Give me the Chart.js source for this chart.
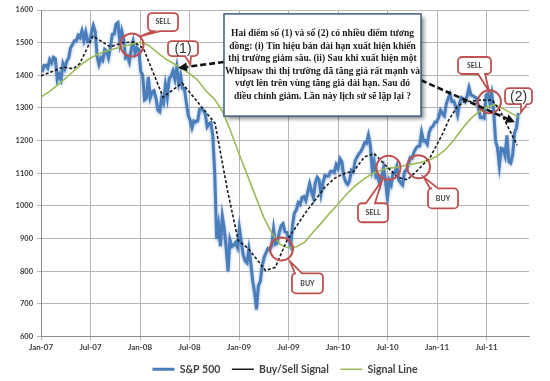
<!DOCTYPE html>
<html>
<head>
<meta charset="utf-8">
<script src="https://cdn.jsdelivr.net/npm/chart.js@4.4.0/dist/chart.umd.min.js"></script>
<style>
html,body{margin:0;padding:0;background:#fff;}
</style>
</head>
<body>
<canvas id="myChart" width="550" height="381"></canvas>
<script>
'use strict';

// x axis is in months since 1 Jan 2007
const tickMonths=[0,6,12,18,24,30,36,42,48,54];
const tickLabels=['Jan-07','Jul-07','Jan-08','Jul-08','Jan-09','Jul-09','Jan-10','Jul-10','Jan-11','Jul-11'];

// S&P 500 weekly closes, first one is Fri 5 Jan 2007
const firstFriday=4;
const sp2007=[1409.7,1430.7,1430.5,1422.2,1448.4,1438.1,1455.5,1451.2,1387.2,1402.8,1386.9,1436.1,1420.9,1443.8,1452.9,1484.4,1494.1,1505.6,1505.9,1522.8,1515.7,1536.3,1507.7,1532.9,1502.6,1503.4,1530.4,1552.5,1534.1,1458.9,1433.1,1453.6,1445.9,1479.4,1473.9,1453.6,1484.3,1525.8,1526.8,1557.6,1561.8,1500.6,1535.3,1509.7,1453.7,1458.7,1440.7,1481.1,1504.7,1467.9,1484.5,1478.5];
const sp2008=[1411.6,1401.0,1325.2,1330.6,1395.4,1331.3,1349.0,1353.1,1330.6,1293.4,1288.1,1329.5,1315.2,1370.4,1332.8,1390.3,1397.8,1413.9,1388.3,1425.4,1375.9,1400.4,1360.7,1360.0,1317.9,1278.4,1262.9,1239.5,1260.7,1257.8,1260.3,1296.3,1298.2,1292.2,1282.8,1242.3,1251.7,1255.1,1213.3,1099.2,899.2,940.6,876.8,968.8,931.0,873.3,800.0,896.2,876.1,879.7,887.9,872.8];
const sp2009=[931.8,890.4,850.1,831.9,825.9,868.6,826.8,770.1,735.1,683.4,756.6,768.5,815.9,842.5,856.6,869.6,866.2,877.5,929.2,882.9,887.0,919.1,940.1,946.2,921.2,918.9,896.4,879.1,940.4,979.3,987.5,1010.5,1004.1,1026.1,1028.9,1016.4,1042.7,1068.3,1044.4,1025.2,1071.5,1087.7,1079.6,1036.2,1069.3,1093.5,1091.4,1091.5,1106.0,1106.4,1102.5,1126.5,1115.1];
const sp2010=[1145.0,1136.0,1091.8,1073.9,1066.2,1075.5,1109.2,1104.5,1138.7,1150.0,1159.9,1166.6,1178.1,1194.4,1192.1,1217.3,1186.7,1110.9,1135.7,1087.7,1089.4,1064.9,1091.6,1117.5,1076.8,1022.6,1078.0,1064.9,1102.7,1101.6,1121.6,1079.3,1071.7,1064.6,1104.5,1109.6,1125.6,1148.7,1146.2,1165.2,1176.2,1183.1,1183.3,1225.9,1199.2,1199.7,1189.4,1224.7,1240.4,1243.9,1256.8,1257.6];
const sp2011=[1271.5,1293.2,1283.4,1276.3,1310.9,1329.2,1343.0,1319.9,1321.2,1304.3,1279.2,1313.8,1332.4,1328.2,1319.7,1337.4,1363.6,1340.2,1337.8,1333.3,1331.1,1300.2,1271.0,1271.5,1268.5,1339.7,1343.8,1316.1,1345.0,1292.3,1199.4,1178.8,1123.5,1176.8,1174.0,1154.2,1216.0,1136.4,1131.4,1155.5,1224.6,1238.3,1285.1];
const spValues=[].concat(sp2007,sp2008,sp2009,sp2010,sp2011);

// Buy/Sell Signal (dashed)
const signalMonths=[0,2.7,3.9,4.7,6.3,8.4,9.9,11.2,12.4,14.8,17.1,18.7,20.7,21.1,22.6,23.9,25.1,26.2,27.2,28.4,29.8,32,34.4,35.6,37.1,37.8,39.2,40.4,41.5,43.2,44.4,45.6,47.2,48.7,49.4,50.4,51.2,53.2,54.7,55.6,56.8,57.7];
const signalValues=[1398,1425,1420,1436,1520,1487,1500,1502,1483,1333,1376,1327,1265,1253,1048,894,870,835,802,812,894,977,1057,1085,1103,1103,1150,1160,1131,1088,1080,1108,1150,1222,1262,1302,1318,1324,1324,1293,1232,1186];

// Signal Line (green)
const lineMonths=[0,1,2,3,4,5,6,7,8,9,10,11,12,13,14,15,16,17,18,19,20,21,22,23,24,25,26,27,28,29,30,31,32,33,34,35,36,37,38,39,40,41,42,43,44,45,46,47,48,49,50,51,52,53,54,55,56,57,57.9];
const lineValues=[1333,1350,1370,1391,1414,1436,1453,1466,1475,1482,1488,1496,1501,1493,1472,1452,1437,1422,1405,1385,1352,1328,1290,1228,1160,1095,1030,965,915,882,871,875,890,920,948,978,1005,1035,1060,1080,1097,1108,1115,1118,1123,1128,1133,1140,1152,1172,1200,1235,1265,1287,1303,1310,1298,1284,1272];

// notes drawn on top (month, value, radius in px)
const circles=[[11.03,1493,11.5],[29.15,868,11.5],[42.12,1117,12],[45.76,1120,11.5],[54.36,1319,11.5]];
const callouts=[
  {text:'SELL',m:14.79,v:1563,w:30,h:18,side:'bottom',p1:5,p2:12,tm:12.12,tv:1520},
  {text:'(1)',m:17.21,v:1482,w:30,h:15,side:'bottom',p1:17,p2:23,tm:18.1,tv:1434,big:true},
  {text:'SELL',m:52.55,v:1430,w:33,h:17,side:'bottom',p1:20,p2:27,tm:54.3,tv:1352},
  {text:'(2)',m:57.88,v:1336,w:27,h:16,side:'bottom',p1:16,p2:22,tm:58.18,tv:1287,big:true},
  {text:'SELL',m:40.24,v:979,w:30,h:19,side:'top',p1:8,p2:17,tm:41.33,tv:1078},
  {text:'BUY',m:48.73,v:1023,w:30,h:20,side:'top',p1:2,p2:10,tm:46.4,tv:1088},
  {text:'BUY',m:32.3,v:763,w:31,h:20,side:'top',p1:3,p2:10,tm:30.18,tv:830}
];
const arrows=[[22.18,1441,16.6,1422],[46.06,1385,57.45,1256]];
const noteBox={m0:22.18,v0:1588,m1:46.06,v1:1275};
const noteLines=[
  'Hai điểm số (1) và số (2) có nhiều điểm tương',
  'đồng: (i) Tín hiệu bán dài hạn xuất hiện khiến',
  'thị trường giảm sâu. (ii) Sau khi xuất hiện một',
  'Whipsaw thì thị trường đã tăng giá rất mạnh và',
  'vượt lên trên vùng tăng giá dài hạn. Sau đó',
  'điều chỉnh giảm. Lần này lịch sử sẽ lặp lại ?'
];

const spPoints=spValues.map((v,i)=>({x:(firstFriday+7*i)/30.4375,y:v}));
const signalPoints=signalMonths.map((m,i)=>({x:m,y:signalValues[i]}));
const linePoints=lineMonths.map((m,i)=>({x:m,y:lineValues[i]}));

function calloutPath(ctx,l,t,r,b,c,tx,ty){
    const rad=4;
    ctx.beginPath();
    ctx.moveTo(l+rad,t);
    if(c.side==='top'){ctx.lineTo(l+c.p1,t);ctx.lineTo(tx,ty);ctx.lineTo(l+c.p2,t);}
    ctx.lineTo(r-rad,t);ctx.arcTo(r,t,r,t+rad,rad);
    ctx.lineTo(r,b-rad);ctx.arcTo(r,b,r-rad,b,rad);
    if(c.side==='bottom'){ctx.lineTo(l+c.p2,b);ctx.lineTo(tx,ty);ctx.lineTo(l+c.p1,b);}
    ctx.lineTo(l+rad,b);ctx.arcTo(l,b,l,b-rad,rad);
    ctx.lineTo(l,t+rad);ctx.arcTo(l,t,l+rad,t,rad);
    ctx.closePath();
}

function drawArrow(ctx,x0,y0,x1,y1){
    const a=Math.atan2(y1-y0,x1-x0),hl=9,hw=4.5;
    const bx=x1-hl*Math.cos(a),by=y1-hl*Math.sin(a);
    ctx.save();
    ctx.strokeStyle='#111';ctx.lineWidth=2.6;ctx.setLineDash([6,3]);
    ctx.beginPath();ctx.moveTo(x0,y0);ctx.lineTo(bx,by);ctx.stroke();
    ctx.setLineDash([]);ctx.fillStyle='#111';
    ctx.beginPath();ctx.moveTo(x1,y1);
    ctx.lineTo(bx+hw*Math.sin(a),by-hw*Math.cos(a));
    ctx.lineTo(bx-hw*Math.sin(a),by+hw*Math.cos(a));
    ctx.closePath();ctx.fill();
    ctx.restore();
}

const notesPlugin={
    id:'notes',
    beforeDatasetDraw(chart,args){
        if(args.index===0){
            chart.ctx.save();
            chart.ctx.shadowColor='rgba(90,130,190,0.6)';
            chart.ctx.shadowBlur=3;
            chart.ctx.shadowOffsetY=1;
        }
    },
    afterDatasetDraw(chart,args){
        if(args.index===0) chart.ctx.restore();
    },
    afterDatasetsDraw(chart){
        const ctx=chart.ctx,xs=chart.scales.x,ys=chart.scales.y;
        const px=m=>xs.getPixelForValue(m),py=v=>ys.getPixelForValue(v);
        ctx.save();
        // red circles
        ctx.strokeStyle='#c0504d';ctx.lineWidth=2;
        circles.forEach(c=>{
            ctx.beginPath();ctx.arc(px(c[0]),py(c[1]),c[2],0,Math.PI*2);ctx.stroke();
        });
        arrows.forEach(a=>drawArrow(ctx,px(a[0]),py(a[1]),px(a[2]),py(a[3])));
        // callouts
        callouts.forEach(c=>{
            const cx=px(c.m),cy=py(c.v);
            const l=cx-c.w/2,r=cx+c.w/2,t=cy-c.h/2,b=cy+c.h/2;
            calloutPath(ctx,l,t,r,b,c,px(c.tm),py(c.tv));
            ctx.fillStyle='#fff';ctx.fill();
            ctx.strokeStyle='#c0504d';ctx.lineWidth=1.8;ctx.stroke();
            ctx.fillStyle=c.big?'#333':'#404040';
            ctx.font=c.big?'14px "Liberation Sans"':'bold 7px Lato';
            ctx.textAlign='center';ctx.textBaseline='middle';
            ctx.fillText(c.text,cx,cy+(c.big?0.5:0));
        });
        // text box
        const l=px(noteBox.m0),r=px(noteBox.m1),t=py(noteBox.v0),b=py(noteBox.v1);
        ctx.save();
        ctx.shadowColor='rgba(0,0,0,0.45)';ctx.shadowBlur=4;ctx.shadowOffsetX=3;ctx.shadowOffsetY=3;
        ctx.fillStyle='#fff';ctx.fillRect(l,t,r-l,b-t);
        ctx.restore();
        ctx.strokeStyle='#3d5c86';ctx.lineWidth=1.5;ctx.strokeRect(l,t,r-l,b-t);
        ctx.fillStyle='#1a1a1a';ctx.font='bold 9.5px "Liberation Serif"';
        ctx.textAlign='center';ctx.textBaseline='middle';
        const mid=(t+b)/2;
        noteLines.forEach((s,i)=>ctx.fillText(s,(l+r)/2,mid+(i-2.5)*12.6));
        ctx.restore();
    }
};

const ctx=document.getElementById('myChart').getContext('2d');
const myChart=new Chart(ctx,{
    type:'line',
    data:{
        datasets:[{
            label:'S&P 500',
            data:spPoints,
            borderColor:'#4a7ebb',
            backgroundColor:'#4a7ebb',
            borderWidth:3,
            pointRadius:0,
            order:3
        },{
            label:'Buy/Sell Signal',
            data:signalPoints,
            borderColor:'#1a1a1a',
            backgroundColor:'#1a1a1a',
            borderWidth:1.6,
            borderDash:[3,2],
            pointRadius:0,
            order:1
        },{
            label:'Signal Line',
            data:linePoints,
            borderColor:'#9bbb59',
            backgroundColor:'#9bbb59',
            borderWidth:1.6,
            pointRadius:0,
            order:2
        }]
    },
    options:{
        responsive:false,
        animation:false,
        devicePixelRatio:1,
        layout:{padding:{top:10,right:21,left:0,bottom:-3.5}},
        plugins:{
            legend:{
                position:'bottom',
                fullSize:false,
                labels:{
                    usePointStyle:true,
                    pointStyle:'line',
                    pointStyleWidth:22,
                    boxHeight:11,
                    padding:11.5,
                    color:'#404040',
                    font:{family:'Lato',weight:'bold',size:10.5},
                    sort:(a,b)=>a.datasetIndex-b.datasetIndex
                }
            },
            tooltip:{enabled:false}
        },
        scales:{
            x:{
                type:'linear',
                min:0,
                max:59.15,
                afterBuildTicks:s=>{s.ticks=tickMonths.map(v=>({value:v}));},
                afterFit:s=>{s.height=16;},
                ticks:{
                    callback:v=>tickLabels[tickMonths.indexOf(v)],
                    autoSkip:false,
                    maxRotation:0,
                    padding:2,
                    color:'#404040',
                    font:{family:'Lato',weight:'bold',size:8}
                },
                grid:{color:'#b5b5b5',tickLength:4},
                border:{color:'#8c8c8c'}
            },
            y:{
                min:600,
                max:1600,
                afterFit:s=>{s.width=41;},
                ticks:{
                    stepSize:100,
                    padding:4,
                    callback:v=>String(v),
                    color:'#404040',
                    font:{family:'Lato',weight:'bold',size:7.5}
                },
                grid:{color:'#b5b5b5',tickLength:4},
                border:{color:'#8c8c8c'}
            }
        }
    },
    plugins:[notesPlugin]
});
</script>
</body>
</html>
